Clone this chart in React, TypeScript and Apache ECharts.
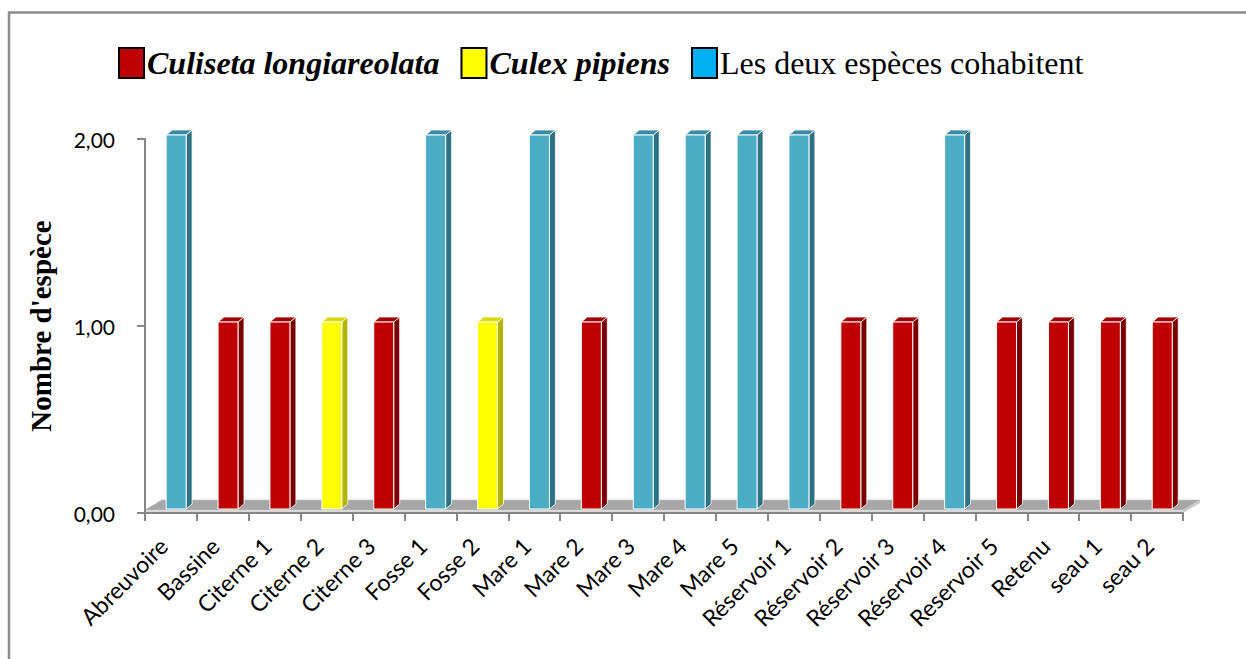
import React, { useEffect, useRef } from "react";
import * as echarts from "echarts";

const categories = [
  "Abreuvoire", "Bassine", "Citerne 1", "Citerne 2", "Citerne 3", "Fosse 1", "Fosse 2",
  "Mare 1", "Mare 2", "Mare 3", "Mare 4", "Mare 5", "Réservoir 1", "Réservoir 2",
  "Réservoir 3", "Réservoir 4", "Reservoir 5", "Retenu", "seau 1", "seau 2",
];
const culiseta = ["-", 1, 1, "-", 1, "-", "-", "-", 1, "-", "-", "-", "-", 1, 1, "-", 1, 1, 1, 1];
const culex = ["-", "-", "-", 1, "-", "-", 1, "-", "-", "-", "-", "-", "-", "-", "-", "-", "-", "-", "-", "-"];
const deux = [2, "-", "-", "-", "-", 2, "-", 2, "-", 2, 2, 2, 2, "-", "-", 2, "-", "-", "-", "-"];
const yTicks = [0, 1, 2];

const names = ["Culiseta longiareolata", "Culex pipiens", "Les deux espèces cohabitent"];

const SANS = "Lato, 'Open Sans', sans-serif";
const SERIF = "'Liberation Serif', 'Times New Roman', serif";

function toData(arr: (number | string)[]) {
  const out: number[][] = [];
  arr.forEach((v, i) => {
    if (v !== "-") out.push([i, v as number]);
  });
  return out;
}

function barRenderer(front: string, side: string, top: string) {
  return (params: any, api: any) => {
    const idx = api.value(0);
    const v = api.value(1);
    const base = api.coord([idx, 0]);
    const tp = api.coord([idx, v]);
    const bw = api.size([1, 0])[0];
    const w = bw * 0.385;
    const cx = base[0] + bw * 0.1;
    const dx = bw * 0.115;
    const dy = 5;
    const lift = 4;
    const fl = cx - w / 2;
    const fr = cx + w / 2;
    const yb = base[1] - lift;
    const yt = tp[1] - lift;
    return {
      type: "group",
      children: [
        {
          type: "polygon",
          shape: { points: [[fr, yt], [fr + dx, yt - dy], [fr + dx, yb - dy], [fr, yb]] },
          style: { fill: side, stroke: "#ffffff", lineWidth: 0.8 },
        },
        {
          type: "polygon",
          shape: { points: [[fl, yt], [fl + dx, yt - dy], [fr + dx, yt - dy], [fr, yt]] },
          style: { fill: top, stroke: "#ffffff", lineWidth: 0.8 },
        },
        {
          type: "rect",
          shape: { x: fl, y: yt, width: w, height: yb - yt },
          style: { fill: front, stroke: "#ffffff", lineWidth: 1 },
        },
      ],
    };
  };
}

export default function App() {
  const ref = useRef<HTMLDivElement>(null);
  useEffect(() => {
    if (!ref.current) return;
    const chart = echarts.init(ref.current, undefined, { renderer: "svg" });
    const option: any = {
      animation: false,
      backgroundColor: "#ffffff",
      grid: { left: 145, right: 63, top: 139, bottom: 146 },
      legend: {
        left: 113,
        top: 42,
        icon: "rect",
        itemWidth: 25,
        itemHeight: 30,
        itemGap: 21,
        selectedMode: false,
        textStyle: { fontFamily: SERIF, fontSize: 32, color: "#000", padding: [0, 0, 0, -2] },
        data: [
          {
            name: names[0],
            itemStyle: { color: "#C00000", borderColor: "#000", borderWidth: 2 },
            textStyle: { fontFamily: SERIF, fontSize: 32, color: "#000", fontStyle: "italic", fontWeight: "bold" },
          },
          {
            name: names[1],
            itemStyle: { color: "#FFFF00", borderColor: "#000", borderWidth: 2 },
            textStyle: { fontFamily: SERIF, fontSize: 32, color: "#000", fontStyle: "italic", fontWeight: "bold" },
          },
          {
            name: names[2],
            itemStyle: { color: "#00B0F0", borderColor: "#000", borderWidth: 2 },
            textStyle: { fontFamily: SERIF, fontSize: 32, color: "#000", fontStyle: "normal", fontWeight: "normal" },
          },
        ],
      },
      xAxis: {
        type: "category",
        data: categories,
        z: 10,
        axisLine: { lineStyle: { color: "#868686", width: 2 } },
        axisTick: { show: true, length: 8, lineStyle: { color: "#868686", width: 2 } },
        axisLabel: {
          rotate: 45,
          interval: 0,
          margin: 21,
          padding: [0, 11, 0, 0],
          fontSize: 23,
          fontFamily: SANS,
          color: "#000",
        },
        splitLine: { show: false },
      },
      yAxis: {
        type: "value",
        min: 0,
        max: 2,
        interval: 1,
        z: 10,
        name: "Nombre d'espèce",
        nameLocation: "middle",
        nameGap: 90,
        nameTextStyle: { fontFamily: SERIF, fontWeight: "bold", fontSize: 29, color: "#000" },
        axisLine: { show: true, lineStyle: { color: "#868686", width: 2 } },
        axisTick: { show: true, length: 8, lineStyle: { color: "#868686", width: 2 } },
        axisLabel: {
          margin: 30,
          fontSize: 21,
          fontFamily: SANS,
          color: "#000",
          customValues: yTicks,
          formatter: (v: number) => v.toFixed(2).replace(".", ","),
        },
        splitLine: { show: false },
      },
      graphic: [
        {
          type: "rect",
          shape: { x: 9, y: 12.5, width: 1400, height: 800 },
          style: { fill: "none", stroke: "#8c8c8c", lineWidth: 2.5 },
          silent: true,
        },
      ],
      series: [
        {
          type: "custom",
          name: "floor",
          z: 1,
          data: [[0, 0]],
          renderItem: (params: any, api: any) => {
            const cs = params.coordSys;
            const x0 = cs.x;
            const x1 = cs.x + cs.width;
            const yB = cs.y + cs.height;
            const dx = 17;
            const dy = 13;
            return {
              type: "group",
              children: [
                {
                  type: "polygon",
                  shape: { points: [[x0, yB - 3], [x0 + dx, yB - dy], [x1 + dx, yB - dy], [x1, yB - 3]] },
                  style: { fill: "#A6A6A6", stroke: "#BFBFBF", lineWidth: 0.8 },
                },
                {
                  type: "polygon",
                  shape: { points: [[x1, yB - 3], [x1 + dx, yB - dy], [x1 + dx, yB - dy + 3], [x1, yB]] },
                  style: { fill: "#C8C8C8" },
                },
                {
                  type: "rect",
                  shape: { x: x0, y: yB - 3, width: x1 - x0, height: 3 },
                  style: { fill: "#D9D9D9" },
                },
              ],
            };
          },
        },
        {
          type: "custom",
          name: names[0],
          z: 3,
          itemStyle: { color: "#C00000" },
          encode: { x: 0, y: 1 },
          data: toData(culiseta),
          renderItem: barRenderer("#C00000", "#7A0000", "#9E0000"),
        },
        {
          type: "custom",
          name: names[1],
          z: 3,
          itemStyle: { color: "#FFFF00" },
          encode: { x: 0, y: 1 },
          data: toData(culex),
          renderItem: barRenderer("#FFFF00", "#B3B300", "#D9D900"),
        },
        {
          type: "custom",
          name: names[2],
          z: 3,
          itemStyle: { color: "#00B0F0" },
          encode: { x: 0, y: 1 },
          data: toData(deux),
          renderItem: barRenderer("#4BACC6", "#2F7184", "#3B8BA1"),
        },
      ],
    };
    chart.setOption(option);
    return () => chart.dispose();
  }, []);
  return (
    <div
      ref={ref}
      style={{ position: "fixed", left: 0, top: 0, width: 1246, height: 659 }}
    />
  );
}
